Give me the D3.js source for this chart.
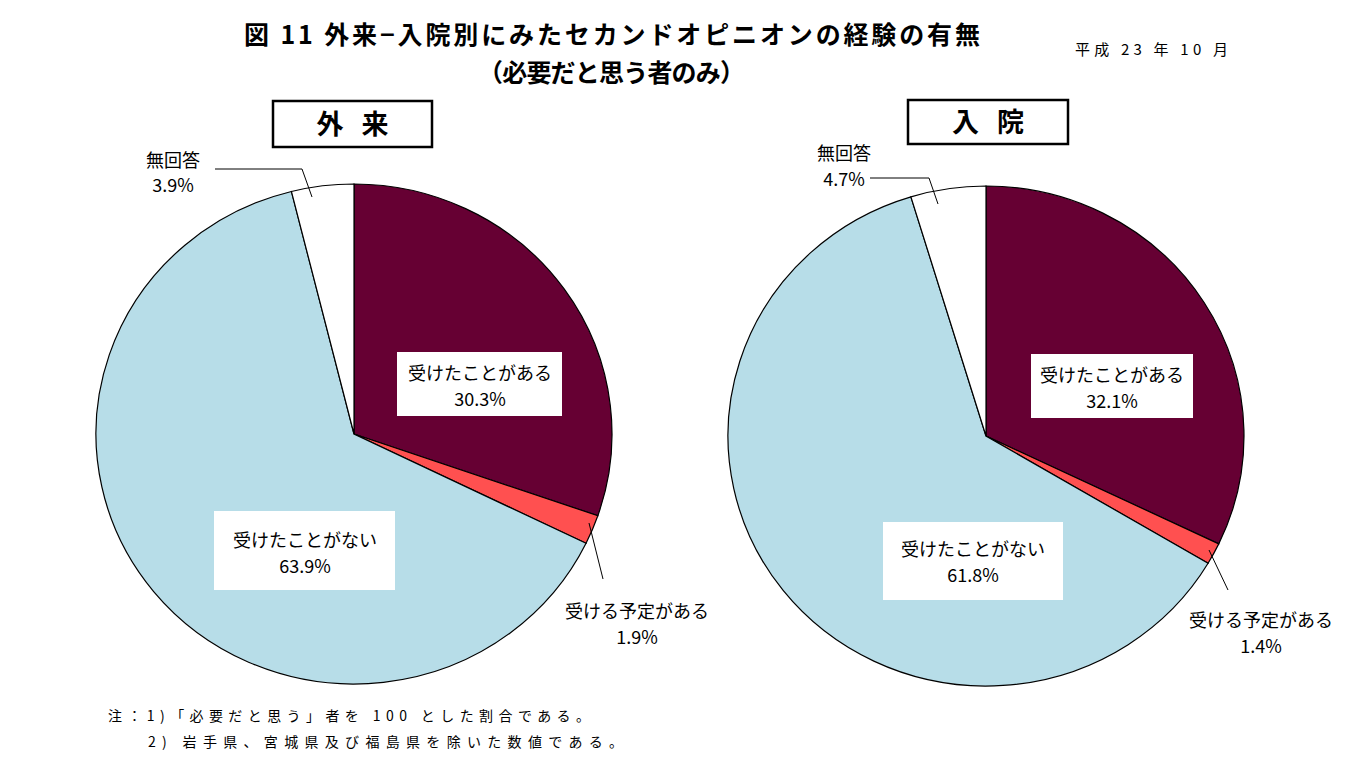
<!DOCTYPE html>
<html><head><meta charset="utf-8">
<script src="https://cdn.jsdelivr.net/npm/d3@7"></script>
<style>
body{margin:0;background:#fff;}
text{font-family:"Noto Sans CJK JP","Noto Sans",sans-serif;fill:#000;}
</style></head>
<body><svg id="c" width="1358" height="774"></svg>
<script>
const categories = ["受けたことがある","受ける予定がある","受けたことがない","無回答"];
const colors = ["#660033","#FF5050","#B7DDE8","#FFFFFF"];
const outpatientValues = [30.3, 1.9, 63.9, 3.9];
const inpatientValues = [32.1, 1.4, 61.8, 4.7];
const panelTitles = ["外 来","入 院"];
const titleLine1 = "図 11  外来−入院別にみたセカンドオピニオンの経験の有無";
const titleLine2 = "（必要だと思う者のみ）";
const dateLabel = "平成 23 年 10 月";
const notes = ["注：1)「必要だと思う」者を 100 とした割合である。","2) 岩手県、宮城県及び福島県を除いた数値である。"];

const svg = d3.select("#c");
svg.append("text").attr("x",244).attr("y",44).attr("font-size",25).attr("font-weight","bold")
  .attr("textLength",736).attr("lengthAdjust","spacing").text(titleLine1);
svg.append("text").attr("x",478).attr("y",82).attr("font-size",25)
  .attr("font-weight","bold").attr("textLength",267).attr("lengthAdjust","spacing").text(titleLine2);
svg.append("text").attr("x",1075).attr("y",55).attr("font-size",15)
  .attr("textLength",153).attr("lengthAdjust","spacing").text(dateLabel);
svg.append("text").attr("x",108).attr("y",721).attr("font-size",14).attr("textLength",482).attr("lengthAdjust","spacing").text(notes[0]);
svg.append("text").attr("x",148).attr("y",747).attr("font-size",14).attr("textLength",475).attr("lengthAdjust","spacing").text(notes[1]);

const pie = d3.pie().sort(null).value(d=>d);
const R = 250;
const arc = d3.arc().innerRadius(0).outerRadius(R);

const panels = [
  {values: outpatientValues, cx:354, cy:434, box:[273,101,159,46], title:panelTitles[0],
   labels:[
     {box:[397,352,165,64], tx:480, ty:[380,406]},
     {tx:637, ty:[618,644], leader:[[589,523],[603,579]]},
     {box:[214,511,181,79], tx:305, ty:[547,573]},
     {tx:173, ty:[167,192], leader:[[215,169],[302,169],[312,197]]}
   ]},
  {values: inpatientValues, cx:986, cy:436, box:[908,100,160,44], title:panelTitles[1],
   labels:[
     {box:[1031,354,162,64], tx:1112, ty:[382,408]},
     {tx:1261, ty:[627,653], leader:[[1209,550],[1228,590]]},
     {box:[883,522,180,78], tx:973, ty:[556,582]},
     {tx:844, ty:[160,186], leader:[[870,178],[929,178],[938,204]]}
   ]}
];

panels.forEach(p=>{
  const g = svg.append("g").attr("transform",`translate(${p.cx},${p.cy}) scale(${258/R},1)`);
  const arcs = pie(p.values);
  g.selectAll("path").data(arcs).enter().append("path")
    .attr("d",arc).attr("fill",(d,i)=>colors[i])
    .attr("stroke","#000").attr("stroke-width",1.2).attr("vector-effect","non-scaling-stroke");
  svg.append("rect").attr("x",p.box[0]).attr("y",p.box[1]).attr("width",p.box[2]).attr("height",p.box[3])
    .attr("fill","#fff").attr("stroke","#000").attr("stroke-width",2.5);
  svg.append("text").attr("x",p.box[0]+p.box[2]/2).attr("y",p.box[1]+p.box[3]/2+10)
    .attr("text-anchor","middle").attr("font-size",27).attr("font-weight","bold")
    .attr("letter-spacing",6).attr("dx",3).text(p.title);
  p.labels.forEach((l,i)=>{
    if(l.box) svg.append("rect").attr("x",l.box[0]).attr("y",l.box[1]).attr("width",l.box[2]).attr("height",l.box[3]).attr("fill","#fff");
    if(l.leader) svg.append("path").attr("d",d3.line()(l.leader)).attr("fill","none").attr("stroke","#000").attr("stroke-width",1);
    svg.append("text").attr("x",l.tx).attr("y",l.ty[0]).attr("text-anchor","middle").attr("font-size",18).text(categories[i]);
    svg.append("text").attr("x",l.tx).attr("y",l.ty[1]).attr("text-anchor","middle").attr("font-size",18)
      .text(d3.format(".1f")(p.values[i])+"%");
  });
});
</script></body></html>
